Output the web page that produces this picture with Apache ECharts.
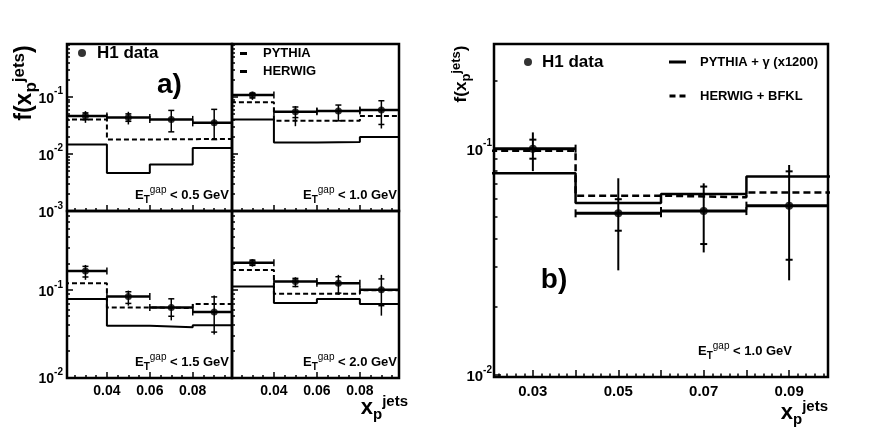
<!DOCTYPE html>
<html><head><meta charset="utf-8">
<script src="https://cdn.jsdelivr.net/npm/echarts@6/dist/echarts.min.js"></script>
<style>html,body{margin:0;padding:0;background:#fff}#c{width:872px;height:445px}</style>
</head><body><div id="c"></div><script>
// ---------- data ----------
const binEdges   = [0.02, 0.04, 0.06, 0.08, 0.10];
const binCenters = [0.03, 0.05, 0.07, 0.09];

// a) E_T^gap < 0.5 GeV
const a05Data   = [0.0457, 0.0433, 0.0400, 0.0348];
const a05StatLo = [0.0395, 0.0370, 0.0242, 0.0177];
const a05StatHi = [0.0520, 0.0500, 0.0575, 0.0600];
const a05TotLo  = [0.0348, 0.0326, 0.0242, 0.0177];
const a05TotHi  = [0.0560, 0.0544, 0.0575, 0.0600];
const a05Pythia = [0.0145, 0.00457, 0.0065, 0.0126];
const a05Herwig = [0.0400, 0.0178, 0.0180, 0.0182];
// a) E_T^gap < 1.0 GeV
const a10Data   = [0.107, 0.0543, 0.0559, 0.0582];
const a10StatLo = [0.095, 0.0430, 0.0378, 0.0326];
const a10StatHi = [0.115, 0.0660, 0.0714, 0.0850];
const a10TotLo  = [0.088, 0.0304, 0.0378, 0.0277];
const a10TotHi  = [0.122, 0.0685, 0.0714, 0.0850];
const a10Pythia = [0.0400, 0.0157, 0.0160, 0.0197];
const a10Herwig = [0.0796, 0.0378, 0.0380, 0.0457];
// a) E_T^gap < 1.5 GeV
const a15Data   = [0.164, 0.084, 0.063, 0.0559];
const a15StatLo = [0.140, 0.070, 0.050, 0.033];
const a15StatHi = [0.185, 0.095, 0.079, 0.083];
const a15TotLo  = [0.130, 0.066, 0.0449, 0.031];
const a15TotHi  = [0.192, 0.098, 0.079, 0.086];
const a15Pythia = [0.0784, 0.0390, 0.0374, 0.0395];
const a15Herwig = [0.119, 0.063, 0.062, 0.069];
// a) E_T^gap < 2.0 GeV
const a20Data   = [0.204, 0.124, 0.119, 0.100];
const a20StatLo = [0.190, 0.109, 0.0917, 0.066];
const a20StatHi = [0.218, 0.135, 0.141, 0.133];
const a20TotLo  = [0.184, 0.107, 0.0877, 0.0508];
const a20TotHi  = [0.223, 0.139, 0.148, 0.148];
const a20Pythia = [0.109, 0.0707, 0.0784, 0.069];
const a20Herwig = [0.168, 0.090, 0.090, 0.099];
// b) E_T^gap < 1.0 GeV
const bData   = [0.100, 0.0518, 0.0530, 0.0560];
const bStatLo = [0.0903, 0.0434, 0.0379, 0.0323];
const bStatHi = [0.1096, 0.0598, 0.0680, 0.0794];
const bTotLo  = [0.0796, 0.0290, 0.0348, 0.0262];
const bTotHi  = [0.1180, 0.0740, 0.0703, 0.0847];
const bPythia = [0.0778, 0.0575, 0.0630, 0.0754];
const bHerwig = [0.0980, 0.0620, 0.0610, 0.0640];

// ---------- ticks / labels ----------
const aXMajor  = [0.04, 0.06, 0.08];
const aXMinor  = [0.025,0.03,0.035,0.045,0.05,0.055,0.065,0.07,0.075,0.085,0.09,0.095];
const aXLabels = [0.04, 0.06, 0.08];
const bXMajor  = [0.03,0.04,0.05,0.06,0.07,0.08,0.09];
const bXMinor  = [0.022,0.024,0.026,0.028,0.032,0.034,0.036,0.038,0.042,0.044,0.046,0.048,
                  0.052,0.054,0.056,0.058,0.062,0.064,0.066,0.068,0.072,0.074,0.076,0.078,
                  0.082,0.084,0.086,0.088,0.092,0.094,0.096,0.098];
const bXLabels = [0.03, 0.05, 0.07, 0.09];
const yMajor      = [0.001, 0.01, 0.1];
const yMinorUpper = [0.002,0.003,0.004,0.005,0.006,0.007,0.008,0.009,
                     0.02,0.03,0.04,0.05,0.06,0.07,0.08,0.09,0.2,0.3,0.4,0.5,0.6,0.7,0.8];
const yMinorLower = [0.02,0.03,0.04,0.05,0.06,0.07,0.08,0.09,0.2,0.3,0.4,0.5,0.6,0.7];
const yMinorB     = [0.02,0.03,0.04,0.05,0.06,0.07,0.08,0.09,0.2];
const yLabelsUpper = [0.001, 0.01, 0.1];
const yLabelsLower = [0.01, 0.1];
const yLabelsB     = [0.01, 0.1];

const FF = '"Liberation Sans", Arial, Helvetica, sans-serif';

// ---------- panels ----------
const panels = [
  {grid:{left:67, top:44, width:165, height:167}, x:[0.0214,0.0983], y:[0.00099,0.84],
   xMaj:aXMajor, xMin:aXMinor, xLab:null, yLab:yLabelsUpper, yMin:yMinorUpper, st:'a',
   d:[a05Data,a05StatLo,a05StatHi,a05TotLo,a05TotHi], py:a05Pythia, hw:a05Herwig, pyName:'PYTHIA', hwName:'HERWIG'},
  {grid:{left:232, top:44, width:167, height:167}, x:[0.0205,0.0982], y:[0.00099,0.84],
   xMaj:aXMajor, xMin:aXMinor, xLab:null, yLab:null, yMin:yMinorUpper, st:'a',
   d:[a10Data,a10StatLo,a10StatHi,a10TotLo,a10TotHi], py:a10Pythia, hw:a10Herwig, pyName:'PYTHIA', hwName:'HERWIG'},
  {grid:{left:67, top:211, width:165, height:167}, x:[0.0214,0.0983], y:[0.0099,0.79],
   xMaj:aXMajor, xMin:aXMinor, xLab:aXLabels, yLab:yLabelsLower, yMin:yMinorLower, st:'a',
   d:[a15Data,a15StatLo,a15StatHi,a15TotLo,a15TotHi], py:a15Pythia, hw:a15Herwig, pyName:'PYTHIA', hwName:'HERWIG'},
  {grid:{left:232, top:211, width:167, height:167}, x:[0.0205,0.0982], y:[0.0099,0.79],
   xMaj:aXMajor, xMin:aXMinor, xLab:aXLabels, yLab:null, yMin:yMinorLower, st:'a',
   d:[a20Data,a20StatLo,a20StatHi,a20TotLo,a20TotHi], py:a20Pythia, hw:a20Herwig, pyName:'PYTHIA', hwName:'HERWIG'},
  {grid:{left:494, top:44, width:334, height:333}, x:[0.0209,0.0991], y:[0.0098,0.29],
   xMaj:bXMajor, xMin:bXMinor, xLab:bXLabels, yLab:yLabelsB, yMin:yMinorB, st:'b',
   d:[bData,bStatLo,bStatHi,bTotLo,bTotHi], py:bPythia, hw:bHerwig, pyName:'PYTHIA + γ (x1200)', hwName:'HERWIG + BFKL'}
];

const STY = {
  a:{barW:2.5, cap:3.5, capW:1.5, errW:1.5, tick:3, sym:7, histW:2, dash:[5,3], lblMarginX:6, lblMarginY:4, lblSize:14, supSize:10, majLen:6, minLen:3},
  b:{barW:3, cap:4, capW:2, errW:2, tick:3.5, sym:8, histW:2.5, dash:[7,4], lblMarginX:7, lblMarginY:2, lblSize:15, supSize:10, majLen:7, minLen:3.5}
};

function errRender(st) {
  return function (params, api) {
    const x = api.value(0), v = api.value(1);
    const c  = api.coord([x, v]);
    const pl = api.coord([api.value(2), v]);
    const ph = api.coord([api.value(3), v]);
    const sl = api.coord([x, api.value(4)]);
    const sh = api.coord([x, api.value(5)]);
    const tl = api.coord([x, api.value(6)]);
    const th = api.coord([x, api.value(7)]);
    const ln = (x1, y1, x2, y2, w) => ({type:'line', shape:{x1, y1, x2, y2}, style:{stroke:'#000', lineWidth:w}});
    return {type:'group', children:[
      ln(pl[0], c[1], ph[0], c[1], st.barW),
      ln(pl[0], c[1]-st.cap, pl[0], c[1]+st.cap, st.capW),
      ln(ph[0], c[1]-st.cap, ph[0], c[1]+st.cap, st.capW),
      ln(c[0], tl[1], c[0], th[1], st.errW),
      ln(c[0]-st.tick, sl[1], c[0]+st.tick, sl[1], st.capW),
      ln(c[0]-st.tick, sh[1], c[0]+st.tick, sh[1], st.capW)
    ]};
  };
}

const grids = [], xAxes = [], yAxes = [], series = [];
const tickStyle = {color:'#000', width:1.5};

panels.forEach((p, g) => {
  const st = STY[p.st];
  grids.push(Object.assign({show:true, borderColor:'#000', borderWidth:2.5, backgroundColor:'transparent', containLabel:false}, p.grid));
  // x axes: minor, major(+labels)
  xAxes.push({type:'value', gridIndex:g, position:'bottom', min:p.x[0], max:p.x[1],
    axisLine:{show:false, onZero:false}, splitLine:{show:false},
    axisTick:{show:true, inside:true, length:st.minLen, lineStyle:tickStyle, customValues:p.xMin},
    axisLabel:{show:false}});
  const xMajIdx = xAxes.length;
  xAxes.push({type:'value', gridIndex:g, position:'bottom', min:p.x[0], max:p.x[1],
    axisLine:{show:false, onZero:false}, splitLine:{show:false},
    axisTick:{show:true, inside:true, length:st.majLen, lineStyle:tickStyle, customValues:p.xMaj},
    axisLabel: p.xLab ? {show:true, customValues:p.xLab, formatter:v => v.toFixed(2), margin:st.lblMarginX,
      fontSize:st.lblSize, fontWeight:'bold', fontFamily:FF, color:'#000'} : {show:false}});
  // y axes: minor, major(+labels)
  yAxes.push({type:'log', logBase:10, gridIndex:g, position:'left', min:p.y[0], max:p.y[1],
    axisLine:{show:false, onZero:false}, splitLine:{show:false}, minorTick:{show:false},
    axisTick:{show:true, inside:true, length:st.minLen, lineStyle:tickStyle, customValues:p.yMin},
    axisLabel:{show:false}});
  const yMajIdx = yAxes.length;
  yAxes.push({type:'log', logBase:10, gridIndex:g, position:'left', min:p.y[0], max:p.y[1],
    axisLine:{show:false, onZero:false}, splitLine:{show:false},
    axisTick:{show:true, inside:true, length:st.majLen, lineStyle:tickStyle, customValues:yMajor},
    axisLabel: p.yLab ? {show:true, customValues:p.yLab, margin:st.lblMarginY,
      formatter:v => '{b|10}{s|' + Math.round(Math.log10(v)) + '}',
      rich:{b:{fontSize:st.lblSize, fontWeight:'bold', fontFamily:FF, color:'#000', lineHeight:20, verticalAlign:'middle', padding:[4,0,0,0]},
            s:{fontSize:st.supSize, fontWeight:'bold', fontFamily:FF, color:'#000', lineHeight:10, verticalAlign:'top'}}} : {show:false}});

  const [dv, sLo, sHi, tLo, tHi] = p.d;
  const stepData = arr => binEdges.map((e, i) => [e, arr[Math.min(i, arr.length - 1)]]);
  series.push({name:p.pyName, type:'line', xAxisIndex:xMajIdx, yAxisIndex:yMajIdx, step:'end',
    data:stepData(p.py), symbol:'none', color:'#000', clip:true, silent:true,
    lineStyle:{color:'#000', width:st.histW, type:'solid'}});
  series.push({name:p.hwName, type:'line', xAxisIndex:xMajIdx, yAxisIndex:yMajIdx, step:'end',
    data:stepData(p.hw), symbol:'none', color:'#000', clip:true, silent:true,
    lineStyle:{color:'#000', width:st.histW, type:st.dash}});
  series.push({name:'H1 data err', type:'custom', xAxisIndex:xMajIdx, yAxisIndex:yMajIdx, clip:true, silent:true,
    encode:{x:0, y:1}, renderItem:errRender(st),
    data:binCenters.map((cx, i) => [cx, dv[i], binEdges[i], binEdges[i+1], sLo[i], sHi[i], tLo[i], tHi[i]])});
  series.push({name:'H1 data', type:'scatter', xAxisIndex:xMajIdx, yAxisIndex:yMajIdx, symbol:'circle',
    symbolSize:st.sym, color:'#000', itemStyle:{color:'#000'}, silent:true, z:5,
    data:binCenters.map((cx, i) => [cx, dv[i]])});
});

// ---------- texts ----------
const rm = (size, lh, w) => ({fontSize:size, fontWeight:w || 'bold', fontFamily:FF, fill:'#000', color:'#000', lineHeight:lh, verticalAlign:'middle'});
const rsub = (size, lh, w) => Object.assign(rm(size, lh, w), {verticalAlign:'bottom'});
const rsup = (size, lh, w) => Object.assign(rm(size, lh, w), {verticalAlign:'top'});
function etLabel(txt, x, y) {
  return {type:'text', x, y, z:10, style:{text:'{m|E}{sb|T}{sp|gap}{m| < ' + txt + ' GeV}', align:'right', verticalAlign:'middle', fill:'#000',
    rich:{m:rm(13, 20), sb:rsub(10, 10), sp:rsup(10, 10, 'normal')}}};
}
function yTitle(x, y, m, s) {
  return {type:'text', x, y, rotation:Math.PI/2, z:10, style:{text:'{m|f(x}{sb|p}{sp|jets}{m|)}', align:'center', verticalAlign:'middle', fill:'#000',
    rich:{m:rm(m, m + 6), sb:rsub(s, s), sp:rsup(s, s)}}};
}
function xTitle(x, y) {
  return {type:'text', x, y, z:10, style:{text:'{m|x}{sb|p}{sp|jets}', align:'right', verticalAlign:'middle', fill:'#000',
    rich:{m:rm(22, 28), sb:rsub(15, 14), sp:rsup(15, 14)}}};
}
const graphics = [
  {type:'text', x:169.5, y:85, z:10, style:{text:'a)', font:'bold 28px ' + FF, fill:'#000', align:'center', verticalAlign:'middle'}},
  {type:'text', x:554, y:280, z:10, style:{text:'b)', font:'bold 28px ' + FF, fill:'#000', align:'center', verticalAlign:'middle'}},
  etLabel('0.5', 229, 195), etLabel('1.0', 397, 195), etLabel('1.5', 229, 362), etLabel('2.0', 397, 362),
  etLabel('1.0', 792, 351),
  yTitle(25, 83, 23, 17), yTitle(461, 74, 17, 13),
  xTitle(408, 408), xTitle(828, 413)
];

const legTxt = (size, lh, pad) => ({fontSize:size, fontWeight:'bold', fontFamily:FF, color:'#000', lineHeight:lh, padding:pad || 0});
const option = {
  animation:false,
  backgroundColor:'#fff',
  grid:grids, xAxis:xAxes, yAxis:yAxes, series,
  legend:[
    {data:[{name:'H1 data', icon:'circle'}], left:78, top:43, padding:0, itemWidth:20, itemHeight:8, selectedMode:false, textStyle:legTxt(17, 20)},
    {data:[{name:'PYTHIA', icon:'rect'}, {name:'HERWIG', icon:'rect'}], orient:'vertical', left:240, top:46, padding:0, itemWidth:7, itemHeight:3, itemGap:3, selectedMode:false, textStyle:legTxt(13, 15, [0,0,0,11])},
    {data:[{name:'H1 data', icon:'circle'}], left:524, top:52, padding:0, itemWidth:18, itemHeight:8, selectedMode:false, textStyle:legTxt(17, 20)},
    {data:[{name:'PYTHIA + γ (x1200)', icon:'rect'}, {name:'HERWIG + BFKL', icon:'path://M0,0h6v3h-6z M10,0h6v3h-6z'}], orient:'vertical', left:669, top:54, padding:0, itemWidth:17, itemHeight:3, itemGap:18, selectedMode:false, textStyle:legTxt(13, 16, [0,0,0,9])}
  ],
  graphic:graphics
};
const chart = echarts.init(document.getElementById('c'), null, {renderer:'canvas'});
chart.setOption(option);
</script></body></html>
